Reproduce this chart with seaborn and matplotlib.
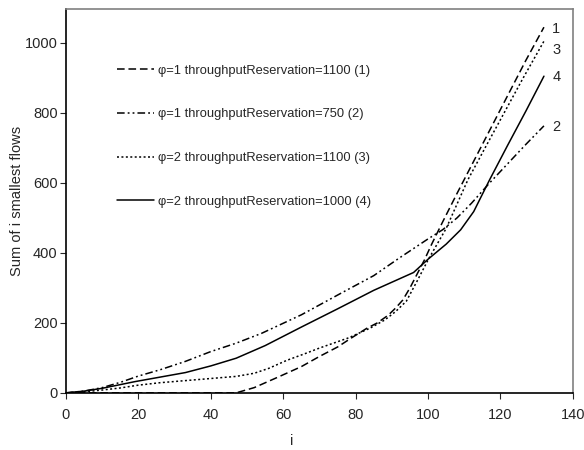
import pandas as pd
import matplotlib
matplotlib.use("Agg")
import matplotlib.pyplot as plt
import seaborn as sns

# series 1: phi=1, throughputReservation=1100 (dashed)
i_1 = [0, 47, 52, 59, 65, 70, 75, 79, 83, 86, 89, 91, 93, 95, 97, 99, 101, 104, 108, 112, 117, 122, 127, 132]
v_1 = [0, 0, 15, 47, 75, 104, 131, 158, 184, 200, 222, 242, 265, 300, 340, 380, 425, 488, 570, 650, 750, 850, 950, 1045]

# series 2: phi=1, throughputReservation=750 (dash-dot-dot)
i_2 = [0, 5, 10, 15, 20, 26, 33, 40, 47, 54, 65, 76, 85, 92, 100, 104, 108, 112, 117, 122, 127, 132]
v_2 = [0, 5, 15, 30, 48, 66, 90, 118, 142, 170, 223, 285, 335, 385, 440, 466, 500, 542, 600, 655, 710, 763]

# series 3: phi=2, throughputReservation=1100 (dotted)
i_3 = [0, 5, 10, 15, 20, 26, 33, 40, 47, 52, 56, 61, 66, 70, 78, 84, 88, 91, 94, 97, 100, 105, 111, 116, 121, 126, 132]
v_3 = [0, 3, 8, 14, 22, 29, 35, 41, 47, 56, 70, 93, 112, 128, 157, 185, 208, 232, 262, 320, 380, 470, 609, 705, 800, 895, 1005]

# series 4: phi=2, throughputReservation=1000 (solid)
i_4 = [0, 5, 10, 19, 26, 33, 40, 47, 55, 65, 75, 85, 96, 100, 105, 109, 112.6, 117, 122, 127, 132]
v_4 = [0, 5, 13, 32, 45, 58, 77, 99, 135, 188, 240, 293, 344, 382, 425, 466, 518, 609, 708, 805, 905]

labels = [
    "\u03c6=1 throughputReservation=1100 (1)",
    "\u03c6=1 throughputReservation=750 (2)",
    "\u03c6=2 throughputReservation=1100 (3)",
    "\u03c6=2 throughputReservation=1000 (4)",
]
end_tags = ["1", "2", "3", "4"]
tag_y = [1040, 760, 980, 903]

sns.set_style("ticks")
plt.rcParams["font.family"] = ["Liberation Sans", "DejaVu Sans"]
plt.rcParams["font.size"] = 10

fig = plt.figure(figsize=(5.84, 4.5), dpi=100)
ax = fig.add_axes([0.113, 0.127, 0.868, 0.853])

styles = [(0, (5, 2.5)), (0, (5, 2, 1.2, 2, 1.2, 2)), (0, (1.3, 1.6)), "-"]
series = [(i_1, v_1), (i_2, v_2), (i_3, v_3), (i_4, v_4)]
for (xs, ys), lab, ls in zip(series, labels, styles):
    df = pd.DataFrame({"i": xs, "v": ys})
    sns.lineplot(data=df, x="i", y="v", ax=ax, color="black", linewidth=1.1,
                 linestyle=ls, label=lab, sort=False)

for tag, y in zip(end_tags, tag_y):
    ax.text(134.3, y, tag, fontsize=10.5, va="center", ha="left")

ax.set_xlim(0, 140)
ax.set_ylim(0, 1097)
ax.set_xticks(range(0, 141, 20))
ax.set_yticks(range(0, 1001, 200))
ax.set_xlabel("i", fontsize=10.5)
ax.set_ylabel("Sum of i smallest flows", fontsize=10.5)
ax.xaxis.set_label_coords(0.445, -0.108)
ax.yaxis.set_label_coords(-0.082, 0.5)
ax.tick_params(direction="out", length=4, width=0.8, labelsize=10.5)
ax.tick_params(axis="x", pad=7)
ax.tick_params(axis="y", pad=2)

for side in ["left", "bottom"]:
    ax.spines[side].set_color("black")
    ax.spines[side].set_linewidth(1.2)
for side in ["top", "right"]:
    ax.spines[side].set_visible(True)
    ax.spines[side].set_color("#808080")
    ax.spines[side].set_linewidth(1.2)

ax.legend(loc="upper left", bbox_to_anchor=(0.1, 0.855), frameon=False,
          handlelength=2.9, handletextpad=0.3, labelspacing=2.45,
          borderpad=0, borderaxespad=0, fontsize=9.3)

fig.savefig("out.png", dpi=100)
